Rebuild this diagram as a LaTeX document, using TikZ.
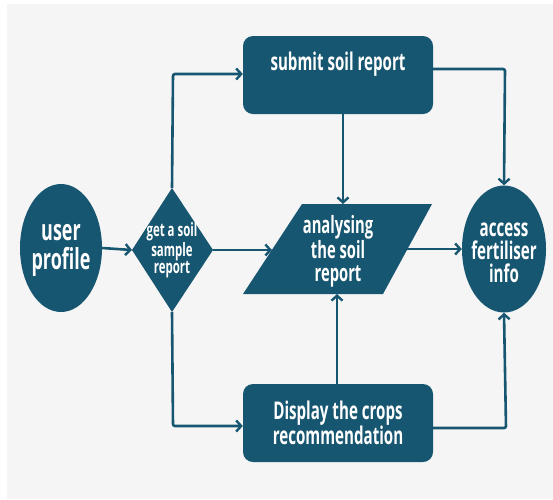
\documentclass[tikz,border=0pt]{standalone}
\usepackage{fontspec}
\setmainfont{Open Sans}[FakeStretch=0.62]
\usetikzlibrary{arrows.meta,shapes.geometric}
\definecolor{teal}{HTML}{175670}
\definecolor{panel}{HTML}{F5F5F5}
\tikzset{
  blk/.style={fill=teal,text=white,font=\bfseries\fontsize{24.4}{22.5}\selectfont,align=center,inner sep=0pt},
  flow/.style={draw=teal,line width=2.6pt,rounded corners=2pt,
    -{Straight Barb[length=5pt,width=11pt,line width=2.4pt]}}
}
\begin{document}
\begin{tikzpicture}[x=1pt,y=-1pt]
\useasboundingbox (0,0) rectangle (553,499);
\fill[white] (0,0) rectangle (553,499);
\fill[panel] (7,4) rectangle (553,499);

% start and end ellipses
\node[blk,ellipse,minimum width=82,minimum height=128] (user) at (61,248) {};
\node[blk,fill=none,font=\bfseries\fontsize{29}{29}\selectfont] (usertext) at (61,250) {user\\profile};
\node[blk,ellipse,minimum width=84,minimum height=127] (info) at (504,249) {};
\node[blk,fill=none,font=\bfseries\fontsize{24.4}{23}\selectfont] (infotext) at (504,253) {access\\fertiliser\\info};

% decision
\fill[teal] (172,188) -- (213,250) -- (172,312) -- (132,250) -- cycle;
\coordinate (dtop) at (172,188);
\coordinate (dbot) at (172,312);
\coordinate (dleft) at (132,250);
\coordinate (dright) at (213,250);
\node[blk,fill=none,font=\bfseries\fontsize{18.5}{17}\selectfont] (soil) at (172,250) {get a soil\\sample\\report};

% boxes
\node[blk,rounded corners=10pt,minimum width=190,minimum height=78] (submit) at (338,75) {};
\node[blk,fill=none] (submittext) at (338,64) {submit soil report};
\node[blk,rounded corners=10pt,minimum width=190,minimum height=78] (crops) at (338,423)
  {Display the crops\\recommendation};

% data parallelogram
\fill[teal] (302,204) -- (432,204) -- (383,294) -- (243,294) -- cycle;
\coordinate (ptop) at (343,204);
\coordinate (pbot) at (337,294);
\coordinate (pleft) at (272,250);
\coordinate (pright) at (404,249);
\node[blk,fill=none,font=\bfseries\fontsize{23.8}{23}\selectfont] (analyse) at (338,251) {analysing\\the soil\\report};

% connectors
\draw[flow] (user.east) -- (dleft);
\draw[flow] (dright) -- (pleft);
\draw[flow] (pright) -- (info.west);
\draw[flow] (dtop) -- (173,74) -- (submit.west |- 0,74);
\draw[flow] (dbot) -- (173,426) -- (crops.west |- 0,426);
\draw[flow] (submit.south -| ptop) -- (ptop);
\draw[flow] (crops.north -| pbot) -- (pbot);
\draw[flow] (submit.east |- 0,69) -- (505,69) -- (info.north);
\draw[flow] (crops.east |- 0,428) -- (506,428) -- (info.south);
\end{tikzpicture}
\end{document}
